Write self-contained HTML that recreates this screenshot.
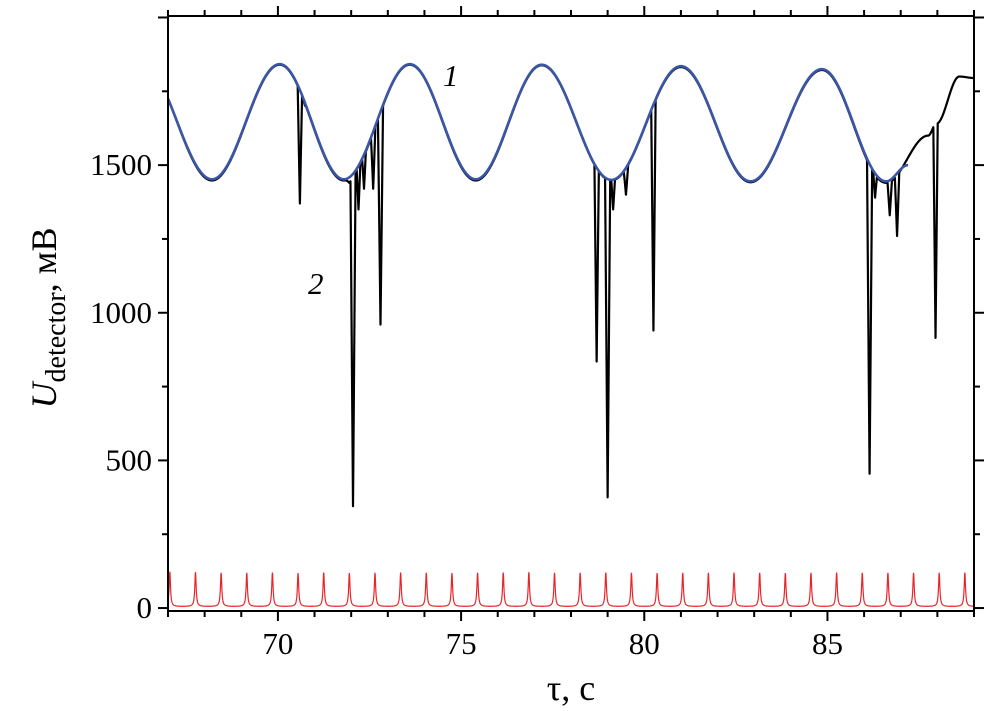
<!DOCTYPE html>
<html><head><meta charset="utf-8"><style>
body{margin:0;background:#fff;}
svg text{font-family:"Liberation Serif",serif;}
</style></head><body>
<svg id="chart" width="988" height="706" viewBox="0 0 988 706">
<g id="plot"></g>
<g id="axes"></g>
<text x="443" y="86" font-size="31" font-style="italic">1</text>
<text x="308" y="294" font-size="31" font-style="italic">2</text>
<text x="571" y="700" font-size="36" text-anchor="middle">τ, c</text>
<text transform="translate(56,318) rotate(-90)" font-size="36" text-anchor="middle"><tspan font-style="italic">U</tspan><tspan font-size="28" dy="9">detector</tspan><tspan dy="-9">, мВ</tspan></text>
</svg>
<script>
const xTicks=[70,75,80,85];
const yTicks=[0,500,1000,1500];
// blue reference curve extrema (time, value)
const blueT=[66.3,68.2,70.05,71.8,73.6,75.4,77.2,79.1,81.0,82.9,84.85,86.6,87.2];
const blueV=[1842,1452,1842,1452,1842,1452,1840,1450,1835,1445,1825,1445,1500];
// black measured curve base extrema
const blackT=[66.3,68.2,70.05,71.8,73.6,75.4,77.2,79.1,81.0,82.9,84.85,86.6,87.75,87.97,88.6,89.0];
const blackV=[1842,1448,1840,1448,1840,1448,1838,1448,1832,1442,1822,1440,1600,1640,1800,1795];
// absorption dips (time, minimum value, half-width)
const dipT=[70.6,70.75,71.95,72.05,72.2,72.35,72.6,72.8,78.7,79.0,79.15,79.5,80.25,86.15,86.3,86.7,86.9,87.95];
const dipV=[1370,1700,1440,345,1350,1420,1420,960,835,375,1350,1400,940,455,1390,1330,1260,915];
const dipW=[0.06,0.04,0.1,0.07,0.05,0.05,0.06,0.07,0.06,0.07,0.05,0.06,0.06,0.07,0.05,0.06,0.06,0.06];
// red reference peaks
const redT=[67.05,67.75,68.45,69.15,69.85,70.55,71.25,71.95,72.65,73.35,74.05,74.75,75.45,76.15,76.85,77.55,78.25,78.95,79.65,80.35,81.05,81.75,82.45,83.15,83.85,84.55,85.25,85.95,86.65,87.35,88.05,88.75];
const redH=[118,116,114,114,115,113,115,113,114,115,114,113,114,115,116,114,114,115,114,113,114,114,115,114,113,114,115,114,114,114,114,115];

const L=168,R=974,T=16,B=611,X0=67,X1=89,Y0=-10,Y1=2005;
const sx=t=>L+(t-X0)/(X1-X0)*(R-L);
const sy=v=>B-(v-Y0)/(Y1-Y0)*(B-T);
const NS="http://www.w3.org/2000/svg";
function mk(tag,attrs,parent){const e=document.createElementNS(NS,tag);for(const k in attrs)e.setAttribute(k,attrs[k]);parent.appendChild(e);return e;}
function smooth(ts,vs,t){
  if(t<=ts[0])return vs[0];
  for(let i=0;i<ts.length-1;i++){if(t<=ts[i+1]){const f=(t-ts[i])/(ts[i+1]-ts[i]);const c=(1-Math.cos(Math.PI*f))/2;return vs[i]+(vs[i+1]-vs[i])*c;}}
  return vs[vs.length-1];
}
const plot=document.getElementById('plot');
const axes=document.getElementById('axes');

// red
let ts=[];for(let t=X0;t<=X1+1e-9;t+=0.005)ts.push(t);
let d='';ts.forEach((t,i)=>{let v=5;redT.forEach((p,j)=>{const g=0.022;v+=redH[j]*g*g/((t-p)*(t-p)+g*g);});d+=(i?'L':'M')+sx(t).toFixed(2)+','+sy(v).toFixed(2);});
const red=mk('path',{d:d,fill:'none',stroke:'#e8262a','stroke-width':1.2},plot);



// black
let bt=[];for(let t=X0;t<=X1+1e-9;t+=0.01)bt.push(t);
dipT.forEach(t=>bt.push(t));bt.sort((a,b)=>a-b);
d='';bt.forEach((t,i)=>{let v=smooth(blackT,blackV,t);dipT.forEach((c,j)=>{const w=dipW[j];if(Math.abs(t-c)<w){const dv=dipV[j]+(v-dipV[j])*Math.abs(t-c)/w;if(dv<v)v=dv;}});d+=(i?'L':'M')+sx(t).toFixed(2)+','+sy(v).toFixed(2);});
const blk=mk('path',{d:d,fill:'none',stroke:'#000','stroke-width':2.2,'stroke-linejoin':'round'},plot);



// blue
d='';let first=true;for(let t=X0;t<=blueT[blueT.length-1]+1e-9;t+=0.02){d+=(first?'M':'L')+sx(t).toFixed(2)+','+sy(smooth(blueT,blueV,t)).toFixed(2);first=false;}
const blu=mk('path',{d:d,fill:'none',stroke:'#3a56a6','stroke-width':2.6},plot);



// frame
const fr=mk('rect',{x:L,y:T,width:R-L,height:B-T,fill:'none',stroke:'#000','stroke-width':2},axes);


for(let t=67;t<=89;t++){const maj=t%5===0;const x=sx(t);const len=maj?10:6;
  const a=mk('line',{x1:x,x2:x,y1:B,y2:B+len,stroke:'#000','stroke-width':2},axes);
  
  
  const b=mk('line',{x1:x,x2:x,y1:T,y2:T-len,stroke:'#000','stroke-width':2},axes);
  
  }
xTicks.forEach(t=>{const tx=mk('text',{x:sx(t),y:654,'font-size':31,'text-anchor':'middle'},axes);tx.textContent=t;
  
  });
for(let v=0;v<=2000;v+=250){const maj=v%500===0;const y=sy(v);const len=maj?10:6;
  const a=mk('line',{x1:L-len,x2:L,y1:y,y2:y,stroke:'#000','stroke-width':2},axes);
  
  
  const b=mk('line',{x1:R,x2:R+len,y1:y,y2:y,stroke:'#000','stroke-width':2},axes);
  
  }
yTicks.forEach(v=>{const tx=mk('text',{x:152,y:sy(v)+10,'font-size':31,'text-anchor':'end'},axes);tx.textContent=v;
  
  });
</script>
</body></html>
